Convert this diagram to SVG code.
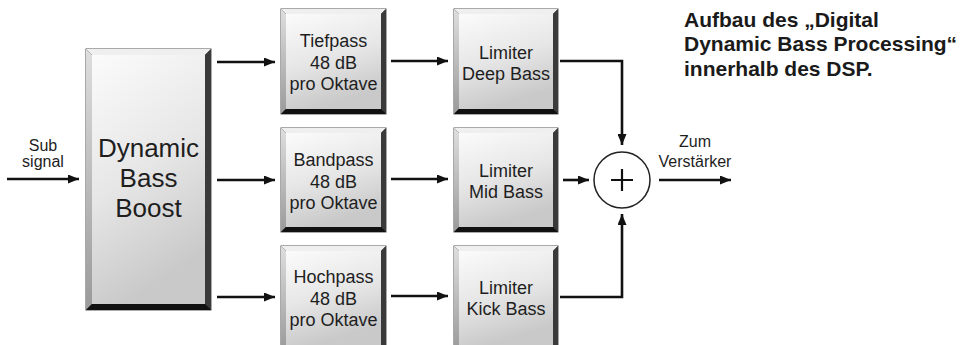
<svg xmlns="http://www.w3.org/2000/svg" width="971" height="345" viewBox="0 0 971 345">
<defs>
<linearGradient id="face" x1="0" y1="0" x2="0.3" y2="1">
<stop offset="0" stop-color="#fbfbfb"/>
<stop offset="0.55" stop-color="#e6e6e6"/>
<stop offset="1" stop-color="#c9c9c9"/>
</linearGradient>
<linearGradient id="left" x1="0" y1="0" x2="0" y2="1">
<stop offset="0" stop-color="#dedede"/>
<stop offset="1" stop-color="#9a9a9a"/>
</linearGradient>
<marker id="arr" viewBox="0 0 11 9" refX="11" refY="4.5" markerWidth="11" markerHeight="9" markerUnits="userSpaceOnUse" orient="auto">
<path d="M0,0 L11,4.5 L0,9 Z" fill="#111"/>
</marker>
<style>
.out{fill:#2a2a2a;stroke:#555;stroke-width:1}
.top{fill:#efefef}
.lft{fill:url(#left)}
.rgt{fill:#3a3a3a}
.bot{fill:#111}
.face{fill:url(#face)}
.t{font-family:"Liberation Sans",Arial,sans-serif;fill:#1e1e1e;text-anchor:middle}
.f18{font-size:18px}
.f26{font-size:26px}
.f16{font-size:16px}
.cap{font-family:"Liberation Sans",Arial,sans-serif;font-weight:bold;font-size:21px;fill:#1a1a1a}
.c{fill:none;stroke:#111;stroke-width:2.6}
</style>
</defs>
<rect width="971" height="345" fill="#ffffff"/>

<g id="boost">
<rect class="out" x="86" y="49" width="125" height="261"/>
<polygon class="top" points="86,49 211,49 205,55 92,55"/>
<polygon class="lft" points="86,49 92,55 92,304 86,310"/>
<polygon class="rgt" points="211,49 211,310 205,304 205,55"/>
<polygon class="bot" points="86,310 211,310 205,304 92,304"/>
<rect class="face" x="92" y="55" width="113" height="249"/>
<text class="t f26" x="148.5" y="157">Dynamic</text>
<text class="t f26" x="148.5" y="187">Bass</text>
<text class="t f26" x="148.5" y="217">Boost</text>
</g>

<g id="tiefpass">
<rect class="out" x="281" y="9" width="105" height="105"/>
<polygon class="top" points="281,9 386,9 381,14 286,14"/>
<polygon class="lft" points="281,9 286,14 286,109 281,114"/>
<polygon class="rgt" points="386,9 386,114 381,109 381,14"/>
<polygon class="bot" points="281,114 386,114 381,109 286,109"/>
<rect class="face" x="286" y="14" width="95" height="95"/>
<text class="t f18" x="333.5" y="47">Tiefpass</text>
<text class="t f18" x="333.5" y="69">48 dB</text>
<text class="t f18" x="333.5" y="90">pro Oktave</text>
</g>

<g id="bandpass">
<rect class="out" x="281" y="128" width="105" height="104"/>
<polygon class="top" points="281,128 386,128 381,133 286,133"/>
<polygon class="lft" points="281,128 286,133 286,227 281,232"/>
<polygon class="rgt" points="386,128 386,232 381,227 381,133"/>
<polygon class="bot" points="281,232 386,232 381,227 286,227"/>
<rect class="face" x="286" y="133" width="95" height="94"/>
<text class="t f18" x="333.5" y="166">Bandpass</text>
<text class="t f18" x="333.5" y="188">48 dB</text>
<text class="t f18" x="333.5" y="209">pro Oktave</text>
</g>

<g id="hochpass">
<rect class="out" x="281" y="246" width="105" height="104"/>
<polygon class="top" points="281,246 386,246 381,251 286,251"/>
<polygon class="lft" points="281,246 286,251 286,345 281,350"/>
<polygon class="rgt" points="386,246 386,350 381,345 381,251"/>
<rect class="face" x="286" y="251" width="95" height="94"/>
<text class="t f18" x="333.5" y="283">Hochpass</text>
<text class="t f18" x="333.5" y="305">48 dB</text>
<text class="t f18" x="333.5" y="326">pro Oktave</text>
</g>

<g id="lim-deep">
<rect class="out" x="454" y="9" width="104" height="105"/>
<polygon class="top" points="454,9 558,9 553,14 459,14"/>
<polygon class="lft" points="454,9 459,14 459,109 454,114"/>
<polygon class="rgt" points="558,9 558,114 553,109 553,14"/>
<polygon class="bot" points="454,114 558,114 553,109 459,109"/>
<rect class="face" x="459" y="14" width="94" height="95"/>
<text class="t f18" x="506" y="59">Limiter</text>
<text class="t f18" x="506" y="80">Deep Bass</text>
</g>

<g id="lim-mid">
<rect class="out" x="454" y="128" width="104" height="104"/>
<polygon class="top" points="454,128 558,128 553,133 459,133"/>
<polygon class="lft" points="454,128 459,133 459,227 454,232"/>
<polygon class="rgt" points="558,128 558,232 553,227 553,133"/>
<polygon class="bot" points="454,232 558,232 553,227 459,227"/>
<rect class="face" x="459" y="133" width="94" height="94"/>
<text class="t f18" x="506" y="177">Limiter</text>
<text class="t f18" x="506" y="198">Mid Bass</text>
</g>

<g id="lim-kick">
<rect class="out" x="454" y="246" width="104" height="104"/>
<polygon class="top" points="454,246 558,246 553,251 459,251"/>
<polygon class="lft" points="454,246 459,251 459,345 454,350"/>
<polygon class="rgt" points="558,246 558,350 553,345 553,251"/>
<rect class="face" x="459" y="251" width="94" height="94"/>
<text class="t f18" x="506" y="294">Limiter</text>
<text class="t f18" x="506" y="315">Kick Bass</text>
</g>

<g id="sum">
<circle cx="622" cy="180" r="28" fill="#fff" stroke="#222" stroke-width="1.5"/>
<path d="M611,180 H633 M622,169 V191" stroke="#111" stroke-width="2.2" fill="none"/>
</g>

<g id="labels">
<text class="t f16" x="43" y="151">Sub</text>
<text class="t f16" x="43" y="167">signal</text>
<text class="t f16" x="695" y="147">Zum</text>
<text class="t f16" x="695" y="167">Verstärker</text>
</g>

<g id="caption">
<text class="cap" x="684" y="27">Aufbau des „Digital</text>
<text class="cap" x="684" y="51">Dynamic Bass Processing“</text>
<text class="cap" x="684" y="76">innerhalb des DSP.</text>
</g>

<g id="connectors">
<path class="c" d="M7,179 H79" marker-end="url(#arr)"/>
<path class="c" d="M217,62 H275" marker-end="url(#arr)"/>
<path class="c" d="M217,180 H275" marker-end="url(#arr)"/>
<path class="c" d="M217,297 H275" marker-end="url(#arr)"/>
<path class="c" d="M391,61 H448" marker-end="url(#arr)"/>
<path class="c" d="M391,179 H448" marker-end="url(#arr)"/>
<path class="c" d="M391,296 H448" marker-end="url(#arr)"/>
<path class="c" d="M560,61 H622 V145" marker-end="url(#arr)"/>
<path class="c" d="M563,180 H589" marker-end="url(#arr)"/>
<path class="c" d="M560,297 H622 V214" marker-end="url(#arr)"/>
<path class="c" d="M659,180 H731" marker-end="url(#arr)"/>
</g>
</svg>
